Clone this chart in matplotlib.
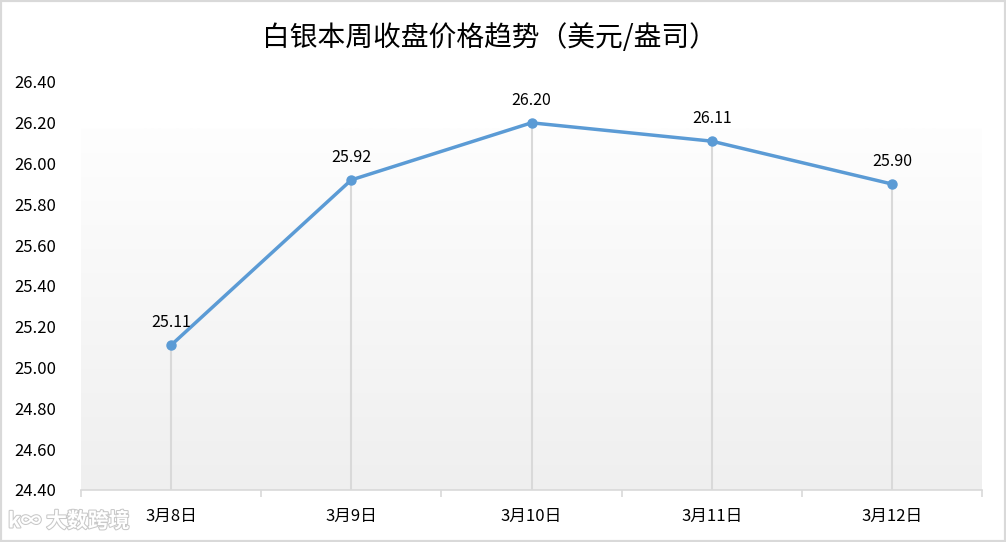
import matplotlib
matplotlib.use("Agg")
import matplotlib.pyplot as plt
import numpy as np
from matplotlib.patches import Rectangle
import matplotlib.patheffects as pe

plt.rcParams['font.family'] = ['Noto Sans CJK SC', 'DejaVu Sans']

title = "白银本周收盘价格趋势（美元/盎司）"
categories = ["3月8日", "3月9日", "3月10日", "3月11日", "3月12日"]
prices = [25.11, 25.92, 26.20, 26.11, 25.90]
y_ticks = [24.40, 24.60, 24.80, 25.00, 25.20, 25.40, 25.60, 25.80, 26.00, 26.20, 26.40]

W, H = 1006, 542
fig = plt.figure(figsize=(W / 100, H / 100), dpi=100)
fig.patch.set_facecolor("white")

ax_top_px, ax_bot_px = 82, 490
left, right, bottom, top = 81 / W, 982 / W, 1 - ax_bot_px / H, 1 - ax_top_px / H
ax = fig.add_axes([left, bottom, right - left, top - bottom])
ax.set_facecolor("white")

x = np.arange(len(categories))
ax.set_xlim(-0.5, len(categories) - 0.5)
ax.set_ylim(y_ticks[0], y_ticks[-1])

# gradient background of plot area
grad_top = (ax_bot_px - 128) / (ax_bot_px - ax_top_px)
g = np.linspace(0, 1, 256).reshape(-1, 1)
c_top = np.array([0xfe, 0xfe, 0xfe]) / 255
c_bot = np.array([0xef, 0xef, 0xef]) / 255
img = c_bot[None, None, :] * (1 - g[:, :, None]) + c_top[None, None, :] * g[:, :, None]
ax.imshow(img, extent=[0, 1, 0, grad_top], transform=ax.transAxes, aspect='auto',
          origin='lower', zorder=0)

# drop lines
ax.vlines(x, y_ticks[0], prices, color="#d9d9d9", lw=1.5, zorder=1)
ax.plot(x, prices, color="#5b9bd5", lw=2.5, marker='o', markersize=6.5,
        markerfacecolor="#5b9bd5", markeredgecolor="#5b9bd5", zorder=3,
        solid_capstyle='round')

for xi, v in zip(x, prices):
    ax.annotate(f"{v:.2f}", (xi, v), xytext=(0, 10), textcoords='offset points',
                ha='center', va='bottom', fontsize=11.5, color="#000000")

for s in ['left', 'right', 'top']:
    ax.spines[s].set_visible(False)
ax.spines['bottom'].set_color("#d9d9d9")
ax.spines['bottom'].set_linewidth(1.2)

ax.set_xticks(np.arange(-0.5, len(categories), 1.0))
ax.set_xticklabels([])
ax.tick_params(axis='x', which='major', length=5, width=1.2, color="#d9d9d9", direction='out')
ax.set_xticks(x, minor=True)
ax.set_xticklabels(categories, minor=True, fontsize=12)
ax.tick_params(axis='x', which='minor', length=0, pad=13)

ax.set_yticks(y_ticks)
ax.set_yticklabels([f"{v:.2f}" for v in y_ticks], fontsize=12)
ax.tick_params(axis='y', length=0, pad=48)
for lbl in ax.get_yticklabels():
    lbl.set_horizontalalignment('left')

fig.text(0.487, 1 - 38 / H, title, ha='center', va='center', fontsize=20, color="#000000")

# watermark
fig.text(8 / W, 1 - 521 / H, "k∞ 大数跨境", ha='left', va='center', fontsize=15,
         color="white", fontweight='bold',
         path_effects=[pe.withStroke(linewidth=1.5, foreground="#c8c8c8")])

# outer border
fig.patches.append(Rectangle((0, 0), 1, 1, transform=fig.transFigure, fill=False,
                             edgecolor="#d9d9d9", lw=3))

fig.savefig("out.png", dpi=100, facecolor="white")
